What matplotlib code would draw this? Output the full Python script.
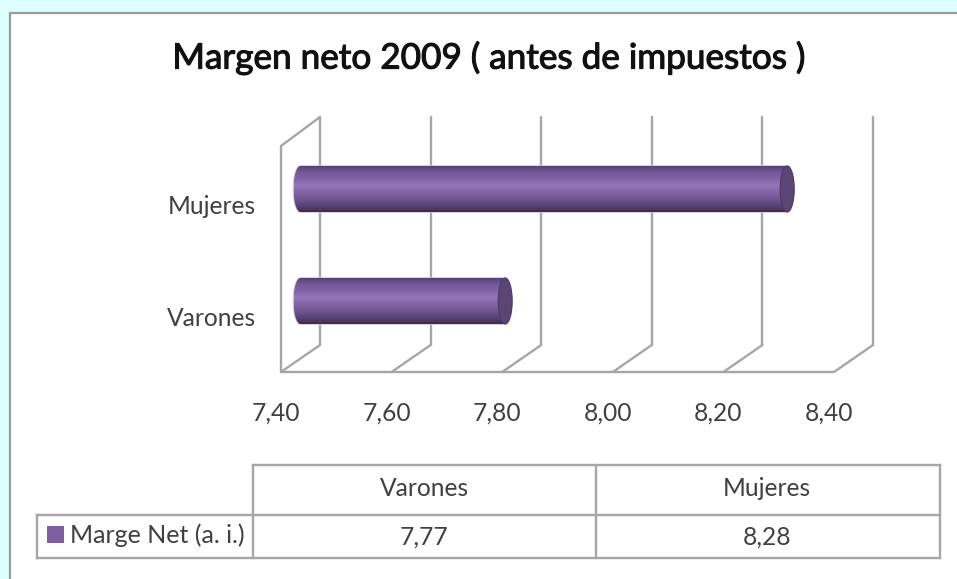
#!/usr/bin/env python3
"""Margen neto 2009: faux 3D cylinder bars with a data table underneath."""

import matplotlib
matplotlib.use("Agg")
import matplotlib.patheffects as pe
import matplotlib.pyplot as plt
import numpy as np
from matplotlib.colors import LinearSegmentedColormap
from matplotlib.patches import Ellipse, Polygon, Rectangle

plt.rcParams["font.family"] = ["Lato", "DejaVu Sans"]

title = "Margen neto 2009 ( antes de impuestos )"
categories = ["Varones", "Mujeres"]
values = [7.77, 8.28]
x_ticks = [7.40, 7.60, 7.80, 8.00, 8.20, 8.40]
series_name = "Marge Net (a. i.)"


def comma(v):
    return f"{v:.2f}".replace(".", ",")


W, H = 957, 579
GRID = "#a6a6a6"
TXT = "#404040"
PURPLE = "#7d5fa0"
FS = 17.7
bar_cmap = LinearSegmentedColormap.from_list(
    "cyl",
    [(0, "#56427a"), (0.1, "#6c5390"), (0.42, "#9675b9"), (0.72, "#6f5591"),
     (0.92, "#4e3c68"), (1, "#3a2c50")],
)

fig = plt.figure(figsize=(W / 100, H / 100), dpi=100, facecolor="#ddffff")

# page panel and table, in pixel coordinates
page = fig.add_axes([0, 0, 1, 1])
page.set_xlim(0, W)
page.set_ylim(H, 0)
page.axis("off")
page.add_patch(Rectangle((10, 12.5), W, H, fc="white", ec="#9a9a9a", lw=1.6))
page.text(489, 58, title, ha="center", va="center", fontsize=25.3, color="#111111",
          path_effects=[pe.withStroke(linewidth=0.8, foreground="#111111")])

# table
for x0, x1, y0, y1 in [(253, 940, 465, 465), (37, 940, 515, 515), (37, 940, 558, 558),
                       (253, 253, 465, 558), (596, 596, 465, 558), (940, 940, 465, 558),
                       (37, 37, 515, 558)]:
    page.plot([x0, x1], [y0, y1], color=GRID, lw=1.7, solid_capstyle="projecting")
col_x = [424, 767]
for cx, cat, v in zip(col_x, categories, values):
    page.text(cx, 489, cat, ha="center", va="center", fontsize=FS, color=TXT)
    page.text(cx, 537, comma(v), ha="center", va="center", fontsize=FS, color=TXT)
page.add_patch(Rectangle((46.5, 526), 17, 17, fc=PURPLE, ec="none"))
page.text(70, 535, series_name, ha="left", va="center", fontsize=18, color=TXT)

# plot area: x in data units, y with Varones=0 and Mujeres=1
x0_px, x1_px = 281, 873
y0_px, y1_px = 372, 117
ax = fig.add_axes([x0_px / W, 1 - y0_px / H, (x1_px - x0_px) / W, (y0_px - y1_px) / H])
px_x = 553 / (x_ticks[-1] - x_ticks[0])
px_y = 112
depth_x = 39 / px_x
depth_y = 27 / px_y
ax.set_xlim(x_ticks[0], x_ticks[0] + (x1_px - x0_px) / px_x)
ax.set_ylim((301 - y0_px) / px_y, (301 - y1_px) / px_y)
ax.axis("off")

floor = ax.get_ylim()[0]
top = ax.get_ylim()[1]
line = dict(color=GRID, lw=1.7, clip_on=False, solid_capstyle="round", zorder=1)
ax.plot([x_ticks[0], x_ticks[-1]], [floor, floor], **line)
for t in x_ticks:
    ax.plot([t, t + depth_x], [floor, floor + depth_y], **line)
    ax.plot([t + depth_x, t + depth_x], [floor + depth_y, top], **line)
    ax.annotate(comma(t), (t, floor), xytext=(-5, -41), textcoords="offset pixels",
                ha="center", va="center", fontsize=FS, color=TXT, annotation_clip=False)
ax.plot([x_ticks[0], x_ticks[0]], [floor, top - depth_y - 2 / px_y], **line)
ax.plot([x_ticks[0], x_ticks[0] + depth_x], [top - depth_y - 2 / px_y, top], **line)

# cylinders sit half way into the depth
start = x_ticks[0] + depth_x / 2
cap_w = 7 / px_x
bar_h = 46 / px_y
grad = np.linspace(0, 1, 128).reshape(-1, 1)
for i, (cat, v) in enumerate(zip(categories, values)):
    end = v + depth_x / 2
    ax.annotate(cat, (x_ticks[0], i), xytext=(-25, -18), textcoords="offset pixels",
                ha="right", va="center", fontsize=FS, color=TXT, annotation_clip=False)
    t = np.linspace(np.pi / 2, 3 * np.pi / 2, 40)
    left = np.column_stack([start + cap_w * np.cos(t), i + bar_h / 2 * np.sin(t)])
    right = np.column_stack([end - cap_w * np.cos(t[::-1]), i + bar_h / 2 * np.sin(t[::-1])])
    outline = Polygon(np.vstack([left, right]), closed=True, transform=ax.transData,
                      fc="none", ec="#cfc6da", lw=1.2, zorder=2)
    ax.add_patch(outline)
    im = ax.imshow(grad, cmap=bar_cmap, aspect="auto", zorder=3, interpolation="bilinear",
                   extent=(start - cap_w, end + cap_w, i - bar_h / 2, i + bar_h / 2))
    im.set_clip_path(Polygon(np.vstack([left, right]), closed=True, transform=ax.transData))
    ax.add_patch(Ellipse((end, i), 2 * cap_w, bar_h, fc="#5b4574", ec="#4e3c68",
                         lw=0.8, zorder=4))
ax.set_xlim(x_ticks[0], x_ticks[0] + (x1_px - x0_px) / px_x)
ax.set_ylim((301 - y0_px) / px_y, (301 - y1_px) / px_y)

fig.savefig("out.png", dpi=100, facecolor=fig.get_facecolor())
